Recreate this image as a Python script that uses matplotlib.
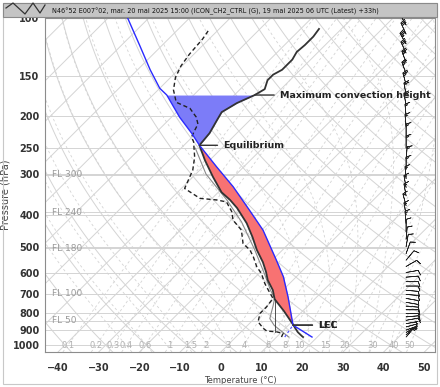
import numpy as np
import matplotlib
matplotlib.use('Agg')
import matplotlib.pyplot as plt
from matplotlib.patches import Rectangle
from matplotlib.lines import Line2D
from matplotlib.ticker import NullLocator, FixedLocator

title = ('N46\u00b052 E007\u00b002, mar. 20 mai 2025 15:00 (ICON_CH2_CTRL (G), '
         '19 mai 2025 06 UTC (Latest) +33h)')

# environment temperature (hPa, degC), surface upwards
temp_p = [945, 939, 913, 863, 787, 724, 679, 633, 598, 558, 512, 468, 424, 381,
          360, 341, 306, 272, 245, 225, 205, 194, 182, 172, 165, 155, 149, 144,
          139, 134, 127, 121, 114, 108]
temp_t = [16.5, 16.0, 14.0, 10.8, 5.4, 0.2, -2.5, -6.2, -8.6, -11.8, -16.3, -20.5,
          -25.4, -31.5, -35.2, -39.2, -45.1, -51.2, -56.2, -56.7, -58.1, -58.9,
          -57.4, -55.0, -54.0, -55.5, -55.5, -54.5, -54.5, -54.5, -55.3, -55.0,
          -55.0, -55.5]

# dew point
dew_p = [945, 921, 911, 906, 889, 849, 800, 764, 720, 679, 648, 604, 576, 537,
         512, 489, 445, 415, 391, 365, 360, 356, 332, 292, 266, 239, 231, 221,
         211, 201, 189, 181, 166, 152, 140, 129, 116, 108]
dew_t = [11.2, 10.7, 8.7, 6.1, 4.6, 1.7, 0.1, 0.1, -0.4, -3.6, -6.1, -9.4, -12.2,
         -15.5, -18.0, -21.3, -25.0, -29.5, -31.9, -35.6, -38.5, -43.0, -49.2,
         -51.7, -54.5, -58.5, -60.2, -61.0, -61.8, -63.9, -67.6, -72.5, -76.2,
         -78.8, -80.3, -81.1, -81.6, -82.4]

# wet bulb (thin grey)
wb_p = [945, 910, 870, 830, 790, 760, 720, 680, 600, 510, 420, 360, 300, 250]
wb_t = [13.0, 10.0, 6.5, 3.8, 2.5, 1.5, 0.0, -3.0, -9.0, -17.0, -27.0, -36.0,
        -47.5, -56.5]

# surface parcel
parcel_p = [945, 869, 712, 618, 550, 445, 387, 328, 285, 245, 225, 201, 172, 164,
            144, 121, 100]
parcel_t = [18.7, 11.1, 2.9, -3.2, -9.0, -19.7, -27.9, -37.7, -46.7, -56.2, -61.1,
            -68.0, -76.6, -80.0, -86.9, -95.6, -105.2]
parcel_td_p = [945, 869]
parcel_td_t = [12.0, 11.1]

lcl_p = 869
el_p = 245
mch_p = 172
vline_x = 13.3
vline_p = [913, 723]

# wind barbs (hPa, direction deg, speed kt)
wind_p = [105, 112, 120, 128, 137, 148, 160, 172, 185, 200, 215, 230, 250, 270,
          290, 310, 330, 350, 375, 400, 425, 450, 475, 500, 525, 550, 575, 600,
          620, 640, 660, 680, 700, 720, 740, 760, 780, 800, 820, 840, 860, 880,
          900, 915, 930, 945]
wind_dir = [330, 335, 330, 335, 340, 340, 345, 350, 350, 355, 355, 0, 0, 5, 0, 355,
            350, 350, 345, 350, 355, 0, 5, 10, 20, 40, 60, 80, 85, 90, 90, 95, 95,
            100, 100, 95, 90, 90, 85, 80, 80, 75, 70, 60, 50, 40]
wind_spd = [30, 30, 35, 30, 25, 25, 25, 20, 20, 15, 15, 15, 15, 15, 15, 15, 15,
            15, 15, 15, 15, 10, 10, 10, 10, 10, 10, 10, 10, 10, 10, 10, 10, 10,
            10, 10, 10, 10, 10, 10, 5, 5, 5, 5, 5, 5]

y_ticks = [100, 150, 200, 250, 300, 400, 500, 600, 700, 800, 900, 1000]
x_ticks = [-40, -30, -20, -10, 0, 10, 20, 30, 40, 50]
fl_labels = ['FL 300', 'FL 240', 'FL 180', 'FL 100', 'FL 50']
fl_p = [301, 393, 506, 697, 843]
mr_labels = ['0.1', '0.2', '0.3', '0.4', '0.6', '1', '1.5', '2', '3', '4', '6', '8',
             '10', '15', '20', '30', '40', '50']

# ---- skew-T geometry ----
SKEW = 35.0
P_BOT = 1050.0
P_TOP = 100.0


def skew_x(t, p):
    return np.asarray(t, float) + SKEW * np.log(P_BOT / np.asarray(p, float))


def sat_vp(tc):
    return 6.112 * np.exp(17.67 * tc / (tc + 243.5))


def dew_from_vp(e):
    a = np.log(e / 6.112)
    return 243.5 * a / (17.67 - a)


def moist_adiabat(t0, pres):
    # integrate pseudo-adiabat from 1000 hPa
    Rd, cp, Lv, eps = 287.04, 1005.7, 2.501e6, 0.622

    def dtdp(T, p):
        es = sat_vp(T - 273.15)
        rs = eps * es / (p - es)
        return (Rd * T + Lv * rs) / (p * (cp + Lv * Lv * rs * eps / (Rd * T * T)))

    out = []
    for target in pres:
        T = t0 + 273.15
        p = 1000.0
        n = 60
        dp = (target - p) / n
        for _ in range(n):
            k1 = dtdp(T, p)
            k2 = dtdp(T + 0.5 * dp * k1, p + 0.5 * dp)
            k3 = dtdp(T + 0.5 * dp * k2, p + 0.5 * dp)
            k4 = dtdp(T + dp * k3, p + dp)
            T += dp * (k1 + 2 * k2 + 2 * k3 + k4) / 6
            p += dp
        out.append(T - 273.15)
    return np.array(out)


W, H = 440, 387
fig = plt.figure(figsize=(W / 100, H / 100), dpi=100)
ax = fig.add_axes([45 / W, 35 / H, 390 / W, 334 / H])
ax.set_yscale('log')
ax.set_ylim(P_BOT, P_TOP)
ax.set_xlim(-43.2, 52.6)

grid_c = '#d4d4d4'
pp = np.exp(np.linspace(np.log(P_BOT), np.log(P_TOP), 80))

# isobars + flight levels
for p in y_ticks + fl_p:
    ax.axhline(p, color=grid_c, lw=0.7, zorder=1)

# isotherms
for t in range(-160, 60, 10):
    ax.plot(skew_x(t, pp), pp, color=grid_c, lw=0.7, zorder=1)

# dry adiabats
for th in range(-40, 220, 10):
    T = (th + 273.15) * (pp / 1000.0) ** 0.2857 - 273.15
    ax.plot(skew_x(T, pp), pp, color=grid_c, lw=0.7, zorder=1)

# moist adiabats
pm = np.exp(np.linspace(np.log(P_BOT), np.log(P_TOP), 40))
for t0 in range(-25, 45, 5):
    T = moist_adiabat(t0, pm)
    ax.plot(skew_x(T, pm), pm, color=grid_c, lw=0.6, ls=(0, (3, 3)), zorder=1)

# mixing ratio lines
MR_SCALE = 1.27
for lab in mr_labels:
    w = float(lab)
    e = w * pp * MR_SCALE / (622.0 + w)
    ax.plot(skew_x(dew_from_vp(e), pp), pp, color=grid_c, lw=0.6,
            ls=(0, (3, 3)), zorder=1)
    e0 = w * 1000.0 * MR_SCALE / (622.0 + w)
    ax.text(skew_x(dew_from_vp(e0), 1000.0), 1000, lab, color='#b0b0b0',
            fontsize=6, ha='center', va='center', zorder=2)

for lab, p in zip(fl_labels, fl_p):
    ax.text(-41.6, p, lab, color='#9a9a9a', fontsize=6.5, ha='left', va='center',
            zorder=2)

# ---- fills ----
lt = np.log(np.array(temp_p[::-1], float))
tx = skew_x(temp_t, temp_p)[::-1]
lpar = np.log(np.array(parcel_p[::-1], float))
px = skew_x(parcel_t, parcel_p)[::-1]

pg = np.exp(np.linspace(np.log(el_p), np.log(lcl_p), 120))
ax.fill_betweenx(pg, np.interp(np.log(pg), lt, tx), np.interp(np.log(pg), lpar, px),
                 color='#f87272', lw=0, zorder=3)
pg = np.exp(np.linspace(np.log(mch_p), np.log(el_p), 80))
ax.fill_betweenx(pg, np.interp(np.log(pg), lpar, px), np.interp(np.log(pg), lt, tx),
                 color='#7c7cf8', lw=0, zorder=3)

# ---- profiles ----
ax.plot(skew_x(wb_t, wb_p), wb_p, color='#8a8a8a', lw=0.8, zorder=4)
ax.plot(skew_x(dew_t, dew_p), dew_p, color='#222222', lw=1.0, ls=(0, (3, 2)),
        zorder=5)
ax.plot(skew_x(temp_t, temp_p), temp_p, color='#333333', lw=1.3, zorder=5)
ax.plot(skew_x(parcel_t, parcel_p), parcel_p, color='#2a2aff', lw=1.0, zorder=6)
ax.plot(skew_x(parcel_td_t, parcel_td_p), parcel_td_p, color='#5a5aff', lw=0.9,
        ls=(0, (2, 2)), zorder=6)
ax.plot([vline_x, vline_x], vline_p, color='#333333', lw=0.6, zorder=5)

# ---- annotations ----
lcl_x = float(np.interp(np.log(lcl_p), lpar, px))
el_x = float(np.interp(np.log(el_p), lpar, px))
mch_x = float(np.interp(np.log(mch_p), lt, tx))
arrow = dict(arrowstyle='-', color='#333333', lw=1.0, shrinkA=2, shrinkB=0)
for txt, x, p, off in [('Maximum convection height', mch_x, mch_p, 18),
                       ('Equilibrium', el_x, el_p, 17),
                       ('LCL', lcl_x, lcl_p, 18),
                       ('LFC', lcl_x, lcl_p, 18)]:
    ax.annotate(txt, xy=(x, p), xytext=(off, 0), textcoords='offset points',
                ha='left', va='center', fontsize=6.8, fontweight='bold',
                color='#222222', arrowprops=arrow, zorder=8)

# ---- wind barbs ----
wd = np.deg2rad(wind_dir)
u = -np.array(wind_spd) * np.sin(wd)
v = -np.array(wind_spd) * np.cos(wd)
ax.barbs(np.full(len(wind_p), 45.5), wind_p, u, v, length=4.2, lw=0.5,
         color='#222222', zorder=7, clip_on=False)

# ---- axes styling ----
ax.yaxis.set_major_locator(FixedLocator(y_ticks))
ax.yaxis.set_minor_locator(NullLocator())
ax.set_yticklabels([str(p) for p in y_ticks])
ax.set_xticks(x_ticks)
ax.tick_params(length=0, labelsize=7, labelcolor='#333333', pad=4)
ax.tick_params(axis='x', pad=8)
for lab in ax.get_xticklabels() + ax.get_yticklabels():
    lab.set_fontweight('bold')
for s in ax.spines.values():
    s.set_color('#8c8c8c')
    s.set_linewidth(0.8)
ax.set_ylabel('Pressure (hPa)', fontsize=7, color='#444444')
ax.yaxis.set_label_coords(-0.088, 0.47)
ax.set_xlabel('Temperature (\u00b0C)', fontsize=6, color='#444444', labelpad=2)

# ---- frame and title bar ----
fig.patches.append(Rectangle((3 / W, 3 / H), 434 / W, 381 / H, transform=fig.transFigure,
                             fill=False, ec='#c8c8c8', lw=0.8))
fig.patches.append(Rectangle((3 / W, 1 - 17 / H), 434 / W, 14 / H,
                             transform=fig.transFigure, fc='#c4c4c4', ec='#8a8a8a',
                             lw=0.8, zorder=10))
zz_x = [6, 13, 25, 33, 40, 45]
zz_y = [8, 3, 14, 3, 13, 5]
fig.lines.append(Line2D([x / W for x in zz_x], [1 - y / H for y in zz_y],
                        transform=fig.transFigure, color='#333333', lw=0.9, zorder=11))
fig.text(52 / W, 1 - 11 / H, title, fontsize=4.7, color='#111111', ha='left',
         va='center', zorder=11)

fig.savefig('out.png', dpi=100)
